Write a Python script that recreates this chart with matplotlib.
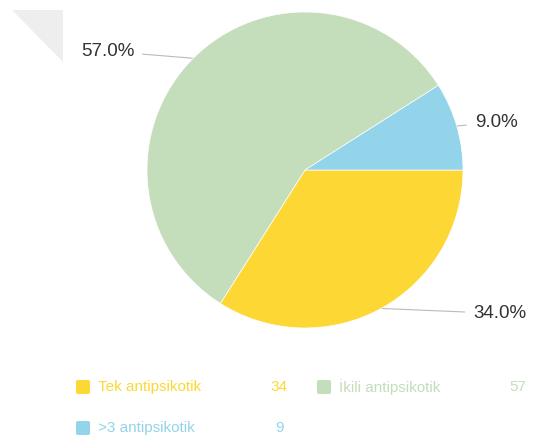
import matplotlib
matplotlib.use("Agg")
import matplotlib.pyplot as plt
import numpy as np
from matplotlib.patches import Polygon, FancyBboxPatch

labels = ["Tek antipsikotik", "İkili antipsikotik", ">3 antipsikotik"]
values = [34, 57, 9]
colors = ["#FDD835", "#C4DDBB", "#93D4EA"]
pct_labels = ["34.0%", "57.0%", "9.0%"]

W, H = 540, 444
plt.rcParams['font.family'] = ['Liberation Sans', 'DejaVu Sans']

fig = plt.figure(figsize=(W / 100, H / 100), dpi=100)


def fx(px):
    return px / W


def fy(py):
    return 1 - py / H


# folded corner
fig.patches.append(Polygon([(fx(12), fy(10)), (fx(63), fy(10)), (fx(63), fy(62))],
                           closed=True, transform=fig.transFigure,
                           facecolor="#EEEEEE", edgecolor="none"))

# pie: center (305, 170), radius 158 px
cx, cy, r = 305, 170, 158
ax = fig.add_axes([fx(cx - r), fy(cy + r), 2 * r / W, 2 * r / H])
wedges, _ = ax.pie(values, colors=colors, startangle=0, counterclock=False,
                   radius=1, wedgeprops=dict(edgecolor="white", linewidth=0.5))
ax.set_xlim(-1, 1)
ax.set_ylim(-1, 1)
ax.axis("off")

# label offsets in pixels (dx, dy) and alignment
offsets = [(92, -5, "left"), (-59, 7, "right"), (18, 3, "left")]
for w, txt, (dx, dy, ha) in zip(wedges, pct_labels, offsets):
    ang = np.deg2rad((w.theta1 + w.theta2) / 2)
    xy = (np.cos(ang), np.sin(ang))
    ax.annotate(txt, xy=xy, xytext=(dx, dy), textcoords="offset pixels",
                ha=ha, va="center", fontsize=13.5, color="#333333",
                annotation_clip=False, zorder=0,
                arrowprops=dict(arrowstyle="-", color="#BBBBBB", lw=0.8,
                                shrinkA=4, shrinkB=0))

# legend
leg_pos = [(76, 387, 279), (317, 387, 518), (76, 428, 279)]
for lab, val, col, (x0, y0, vx) in zip(labels, values, colors, leg_pos):
    fig.patches.append(FancyBboxPatch((fx(x0), fy(y0 + 7)), fx(14), 14 / H,
                                      boxstyle="round,pad=0,rounding_size=0.004",
                                      transform=fig.transFigure,
                                      facecolor=col, edgecolor="none"))
    fig.text(fx(x0 + 22), fy(y0), lab, color=col, fontsize=11,
             ha="left", va="center")
    fig.text(fx(vx), fy(y0), str(val), color=col, fontsize=11,
             ha="center", va="center")

fig.savefig("out.png", dpi=100)
